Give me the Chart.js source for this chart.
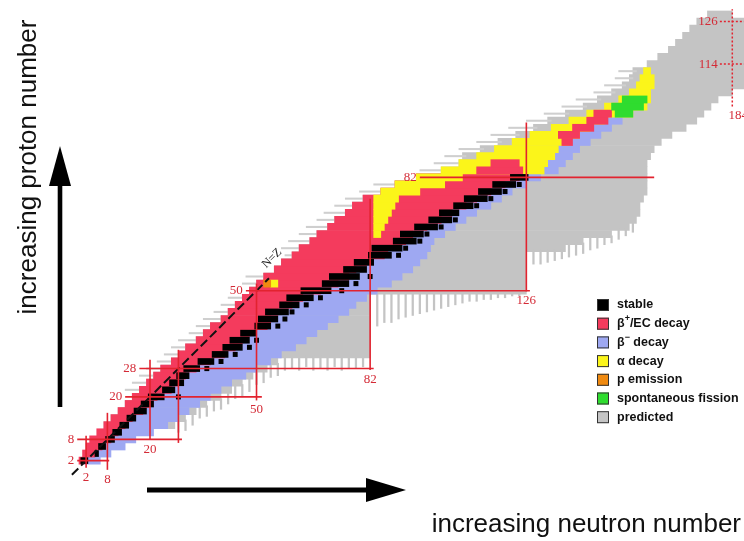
<!DOCTYPE html>
<html>
<head>
<meta charset="utf-8">
<title>Chart of nuclides</title>
<script src="https://cdn.jsdelivr.net/npm/chart.js@4.4.1/dist/chart.umd.min.js"></script>
<style>
  html, body { margin: 0; padding: 0; background: #fff; }
  #chart { display: block; }
</style>
</head>
<body>
<canvas id="chart" width="744" height="541"></canvas>
<script>
// proton number of every row (one row covers two protons)
const protonRows = [2, 4, 6, 8, 10, 12, 14, 16, 18, 20,
  22, 24, 26, 28, 30, 32, 34, 36, 38, 40,
  42, 44, 46, 48, 50, 52, 54, 56, 58, 60,
  62, 64, 66, 68, 70, 72, 74, 76, 78, 80,
  82, 84, 86, 88, 90, 92, 94, 96, 98, 100,
  102, 104, 106, 108, 110, 112, 114, 116, 118, 120,
  122, 124, 126, 128];

// neutron ranges [from, to] for each row, null = nothing in that row
const predicted = [null, null, null, null, null, [7, 27], [9, 30], [11, 33], [13, 36], [15, 40],
  [17, 43], [19, 46], [21, 49], [23, 53], [26, 56], [28, 82], [30, 82], [33, 82], [35, 82], [37, 82],
  [40, 82], [42, 82], [44, 82], [46, 82], [48, 126], [50, 126], [52, 126], [55, 126], [57, 126], [60, 126],
  [62, 137], [65, 142], [67, 150], [70, 155], [72, 157], [75, 158], [77, 158], [80, 159], [85, 160], [89, 160],
  [95, 160], [102, 160], [107, 160], [108, 161], [113, 162], [118, 164], [123, 167], [128, 171], [132, 174], [137, 176],
  [142, 178], [146, 180], [150, 184], [153, 188], [155, 190], [156, 190], [160, 190], [163, 190], [166, 190], [168, 190],
  [170, 190], [172, 190], [174, 190], [177, 184]];

// thin predicted strokes on the proton-rich side
const predictedEdge = [null, null, null, null, null, null, null, null, null, null,
  [13, 18], [15, 20], [17, 22], [19, 24], [22, 27], [24, 29], [26, 31], [28, 34], [31, 36], [33, 38],
  [35, 41], [38, 43], [40, 45], [42, 47], null, [46, 51], [47, 53], null, null, [58, 61],
  [57, 63], [59, 66], [62, 68], [64, 71], [67, 73], [69, 76], [72, 78], [75, 81], [79, 86], [83, 90],
  null, [96, 103], [100, 108], [103, 109], [107, 114], [112, 119], [116, 124], [121, 129], [126, 133], [131, 138],
  [136, 143], [140, 147], [145, 151], [148, 154], [151, 156], [152, 157], null, null, null, null,
  null, null, null, null];

const betaPlus = [[0, 1.5], [1, 4.5], [2, 6.5], [3, 9], [5, 11], [7, 13], [9, 15], [11, 18], [13, 20], [15, 22],
  [17, 26], [19, 28], [21, 30], [23, 33], [26, 37], [28, 41], [30, 44], [33, 46], [35, 48], [37, 53],
  [40, 54], [42, 56], [44, 60], [46, 63], [48, 68], [50, 73], [52, 76], [55, 78], [57, 81], [60, 86],
  [62, 87], [65, 92], [67, 94], [70, 98], [72, 102], [75, 105], [77, 109], [80, 112], [85, 116], [89, 120],
  [95, 124], null, null, null, null, null, null, null, null, null,
  null, null, null, null, null, null, null, null, null, null,
  null, null, null, null];

// beta+ cells lying among the alpha emitters
const betaPlusSpots = [null, null, null, null, null, null, null, null, null, null,
  null, null, null, null, null, null, null, null, null, null,
  null, null, null, null, null, null, null, null, null, null,
  null, null, null, null, null, null, null, null, null, null,
  null, [112, 125], [116, 124], null, null, [136, 139], [135, 141], [139, 145], [143, 149], [145, 150],
  null, null, null, null, null, null, null, null, null, null,
  null, null, null, null];

const alphaDecay = [null, null, null, null, null, null, null, null, null, null,
  null, null, null, null, null, null, null, null, null, null,
  null, null, null, null, null, [54, 56], null, null, null, null,
  null, null, [83, 85], [83, 86], [83, 87], [83, 88], [83, 89], [83, 90], [85, 96], [89, 103],
  [95, 108], [102, 131], [107, 132], [112, 134], [117, 135], [122, 138], [127, 141], [133, 144], [138, 148], [143, 156],
  [148, 160], [152, 161], [155, 161], [157, 162], [158, 162], [159, 161], null, null, null, null,
  null, null, null, null];

const betaMinus = [[1.5, 6], [4.5, 9], [6.5, 13], [9, 16], [11, 21], [13, 25], [15, 28], [18, 31], [20, 34], [22, 37],
  [26, 40], [28, 43], [30, 47], [33, 50], [37, 54], [41, 57], [44, 61], [46, 64], [48, 67], [53, 70],
  [54, 73], [56, 76], [60, 78], [63, 81], [68, 84], [73, 88], [76, 91], [78, 94], [81, 96], [86, 98],
  [87, 99], [92, 100], [94, 103], [98, 106], [102, 109], [105, 112], [109, 116], [112, 119], [116, 122], [120, 126],
  [124, 130], [131, 135], [132, 137], [134, 139], [135, 141], [138, 144], [141, 147], [144, 150], [148, 153], null,
  null, null, null, null, null, null, null, null, null, null,
  null, null, null, null];

const fission = [null, null, null, null, null, null, null, null, null, null,
  null, null, null, null, null, null, null, null, null, null,
  null, null, null, null, null, null, null, null, null, null,
  null, null, null, null, null, null, null, null, null, null,
  null, null, null, null, null, null, null, null, null, [151, 156],
  [150, 159], [153, 160], null, null, null, null, null, null, null, null,
  null, null, null, null];

const protonEmission = [null, null, null, null, null, null, null, null, null, null,
  null, null, null, null, null, null, null, null, null, null,
  null, null, null, null, null, [52, 54], null, null, null, null,
  null, null, null, null, null, null, null, null, null, null,
  null, null, null, null, null, null, null, null, null, null,
  null, null, null, null, null, null, null, null, null, null,
  null, null, null, null];

// core of the valley of stability
const stable = [[0.5, 2.5], [4.5, 5.5], [5.5, 7.5], [7.5, 10], [9.5, 12], [11.5, 14], [13.5, 16], [15.5, 19], [17.5, 21], [19.5, 24],
  [23.5, 27], [25.5, 29.5], [27.5, 31], [29.5, 34], [33.5, 38], [37.5, 42], [40.5, 46], [42.5, 48], [45.5, 50], [49.5, 54],
  [50.5, 56], [52.5, 59], [56.5, 62], [58.5, 66], [62.5, 71], [68.5, 76], [70.5, 79], [74.5, 81], [77.5, 83], [81.5, 88],
  [82.5, 91], [88.5, 95], [90.5, 97], [94.5, 101], [98.5, 105], [101.5, 107], [105.5, 111], [108.5, 115], [112.5, 119], [116.5, 123],
  [121.5, 126.5], null, null, null, null, null, null, null, null, null,
  null, null, null, null, null, null, null, null, null, null,
  null, null, null, null];

// single stable isotopes lying on the neutron-rich side of the valley
const stableOutliers = [null, null, null, null, null, null, null, null, null, [27.4, 28.6],
  null, null, null, [35.4, 36.6], [39.4, 40.6], [43.4, 44.6], [47.4, 48.6], [49.4, 50.6], null, [55.4, 56.6],
  [57.4, 58.6], [59.4, 60.6], [63.4, 64.6], [67.4, 68.6], [73.4, 74.6], [77.4, 78.6], [81.4, 82.6], null, null, [89.4, 90.6],
  [91.4, 92.6], [95.4, 96.6], [97.4, 98.6], [101.4, 102.6], [105.4, 106.6], null, [111.4, 112.6], [115.4, 116.6], [119.4, 120.6], [123.4, 124.6],
  null, null, null, null, null, null, null, null, null, null,
  null, null, null, null, null, null, null, null, null, null,
  null, null, null, null];

// ragged fringe on the neutron-rich edge of the predicted area
const fringeN = [28, 30, 32, 34, 36, 38, 40, 42, 44, 46, 48, 50, 52, 54, 56,
  58, 60, 62, 64, 66, 68, 70, 72, 74, 76, 78, 80,
  84, 86, 88, 90, 92, 94, 96, 98, 100, 102, 104, 106, 108, 110, 112, 114, 116, 118, 120, 122, 124,
  128, 130, 132, 134, 136, 138, 140, 142, 144, 146, 148, 150, 152, 154, 156];
const fringeZ = [[10, 13.5], [10.5, 13.5], [12, 15.5], [14, 17.5], [14.5, 17.5], [16, 19.5], [16.5, 19.5], [18, 21.5], [19.5, 23.5], [20, 23.5], [21.5, 25.5], [23.5, 27.5], [24, 27.5], [25.5, 29.5], [26, 29.5],
  [27.5, 31.5], [28, 31.5], [27.5, 31.5], [28.5, 31.5], [27.5, 31.5], [28, 31.5], [27.5, 31.5], [28.5, 31.5], [27.5, 31.5], [28, 31.5], [28, 31.5], [28.5, 31.5],
  [40, 49.5], [41, 49.5], [41, 49.5], [42, 49.5], [42.5, 49.5], [43, 49.5], [43.5, 49.5], [44, 49.5], [44.5, 49.5], [45, 49.5], [45.5, 49.5], [46, 49.5], [46.5, 49.5], [47, 49.5], [47, 49.5], [47.5, 49.5], [47.5, 49.5], [48, 49.5], [48, 49.5], [48.5, 49.5], [48.5, 49.5],
  [57.5, 61.5], [57.5, 61.5], [58, 61.5], [58.5, 61.5], [59, 61.5], [59.5, 63.5], [60, 63.5], [60.5, 63.5], [61.5, 65.5], [62, 65.5], [63, 65.5], [63.5, 65.5], [64.5, 67.5], [65.5, 67.5], [66.5, 69.5]];

// magic numbers: proton lines run along N, neutron lines run along Z
const magicZ = [2, 8, 20, 28, 50, 82];
const magicZFrom = [-0.5, -0.5, 13, 17, 47, 96];
const magicZTo = [8.5, 29, 51.5, 83, 127, 162];
const magicN = [2, 8, 20, 28, 50, 82, 126];
const magicNFrom = [0, -0.6, 7.8, 7, 19, 27.6, 49.8];
const magicNTo = [9, 15.5, 30.5, 33.3, 52, 76, 97.5];
const magicNShown = [true, true, true, false, true, true, true];

// predicted island of stability
const islandZ = [126, 114];
const islandZFrom = 180.5;
const islandN = 184;
const islandNFrom = 102;
const islandNTo = 129.5;

// N = Z diagonal
const nzFrom = -2;
const nzTo = 53.5;

const colors = {
  stable: '#000000',
  betaPlus: '#f43b5d',
  betaMinus: '#9ea8f2',
  alpha: '#fbf51a',
  proton: '#f08a10',
  fission: '#2fdc2f',
  predicted: '#c4c4c4',
  edge: '#cfcfcf',
  magic: '#e2232f',
  magicText: '#d42a36'
};

const legendItems = [
  { color: colors.stable, parts: ['stable'] },
  { color: colors.betaPlus, parts: ['β', '+', '/EC decay'] },
  { color: colors.betaMinus, parts: ['β', '−', ' decay'] },
  { color: colors.alpha, parts: ['α decay'] },
  { color: colors.proton, parts: ['p emission'] },
  { color: colors.fission, parts: ['spontaneous fission'] },
  { color: colors.predicted, parts: ['predicted'] }
];

function rowBars(ranges) {
  const out = [];
  ranges.forEach((r, i) => {
    if (r) out.push({ x: r, y: protonRows[i] });
  });
  return out;
}

const rowSet = (label, ranges, color, thickness, order) => ({
  label, data: rowBars(ranges), backgroundColor: color, barThickness: thickness, order
});

const lineSet = (points, color, width, dash, order) => ({
  type: 'line', data: points, borderColor: color, borderWidth: width, borderDash: dash,
  pointRadius: 0, fill: false, tension: 0, indexAxis: 'x', order
});

const datasets = [];
magicZ.forEach((z, i) => datasets.push(lineSet([{ x: magicZFrom[i], y: z }, { x: magicZTo[i], y: z }], colors.magic, 1.6, [], 0)));
magicN.forEach((n, i) => datasets.push(lineSet([{ x: n, y: magicNFrom[i] }, { x: n, y: magicNTo[i] }], colors.magic, 1.6, [], 0)));
islandZ.forEach(z => datasets.push(lineSet([{ x: islandZFrom, y: z }, { x: 190, y: z }], colors.magic, 1.5, [2, 2], 0)));
datasets.push(lineSet([{ x: islandN, y: islandNFrom }, { x: islandN, y: islandNTo }], colors.magic, 1.5, [2, 2], 0));
datasets.push(lineSet([{ x: nzFrom, y: nzFrom }, { x: nzTo, y: nzTo }], '#111', 2, [9, 4], 0));

datasets.push(rowSet('stable', stable, colors.stable, 6, 1));
datasets.push(rowSet('stable outliers', stableOutliers, colors.stable, 4.4, 1));
datasets.push(rowSet('p emission', protonEmission, colors.proton, 7.1, 2));
datasets.push(rowSet('spontaneous fission', fission, colors.fission, 7.1, 3));
datasets.push(rowSet('beta+ spots', betaPlusSpots, colors.betaPlus, 7.1, 4));
datasets.push(rowSet('alpha decay', alphaDecay, colors.alpha, 7.1, 5));
datasets.push(rowSet('beta+/EC decay', betaPlus, colors.betaPlus, 7.1, 6));
datasets.push(rowSet('beta- decay', betaMinus, colors.betaMinus, 7.1, 7));
datasets.push({
  label: 'fringe', indexAxis: 'x', order: 8, backgroundColor: colors.predicted, barThickness: 1.6,
  data: fringeN.map((n, i) => ({ x: n, y: fringeZ[i] }))
});
datasets.push(rowSet('predicted edge', predictedEdge, colors.edge, 1.4, 9));
datasets.push(rowSet('predicted', predicted, colors.predicted, 7.1, 10));

function drawArrow(ctx, x1, y1, x2, y2, shaft, headLen, headWidth) {
  const ang = Math.atan2(y2 - y1, x2 - x1);
  const len = Math.hypot(x2 - x1, y2 - y1);
  ctx.save();
  ctx.translate(x1, y1);
  ctx.rotate(ang);
  ctx.fillRect(0, -shaft / 2, len - headLen + 1, shaft);
  ctx.beginPath();
  ctx.moveTo(len, 0);
  ctx.lineTo(len - headLen, -headWidth / 2);
  ctx.lineTo(len - headLen, headWidth / 2);
  ctx.closePath();
  ctx.fill();
  ctx.restore();
}

const decorations = {
  id: 'decorations',
  afterDatasetsDraw(chart) {
    const { ctx } = chart;
    const x = chart.scales.x;
    const y = chart.scales.y;
    ctx.save();

    // magic number labels
    ctx.fillStyle = colors.magicText;
    ctx.font = '13px "Liberation Serif"';
    ctx.textAlign = 'right';
    ctx.textBaseline = 'middle';
    magicZ.forEach((z, i) => ctx.fillText(String(z), x.getPixelForValue(magicZFrom[i]) - 3, y.getPixelForValue(z)));
    islandZ.forEach(z => ctx.fillText(String(z), x.getPixelForValue(islandZFrom) - 2, y.getPixelForValue(z)));
    ctx.textAlign = 'center';
    ctx.textBaseline = 'top';
    magicN.forEach((n, i) => {
      if (magicNShown[i]) ctx.fillText(String(n), x.getPixelForValue(n), y.getPixelForValue(magicNFrom[i]) + 3);
    });
    ctx.fillText(String(islandN), x.getPixelForValue(islandN) + 6, y.getPixelForValue(islandNFrom) + 3);

    // N = Z label along the diagonal
    ctx.save();
    ctx.translate(x.getPixelForValue(nzTo) + 3, y.getPixelForValue(nzTo) - 20);
    ctx.rotate(-Math.PI / 4);
    ctx.fillStyle = '#222';
    ctx.font = '12px "Liberation Serif"';
    ctx.textAlign = 'center';
    ctx.textBaseline = 'middle';
    ctx.fillText('N=Z', 0, 0);
    ctx.restore();

    // axis arrows and titles
    ctx.fillStyle = '#000';
    drawArrow(ctx, 60, 407, 60, 146, 4.6, 40, 22);
    drawArrow(ctx, 147, 490, 406, 490, 5, 40, 24);
    ctx.fillStyle = '#111';
    ctx.font = '26px "Liberation Sans"';
    ctx.textAlign = 'right';
    ctx.textBaseline = 'alphabetic';
    ctx.fillText('increasing neutron number', 741, 532);
    ctx.save();
    ctx.translate(29, 167);
    ctx.rotate(-Math.PI / 2);
    ctx.textAlign = 'center';
    ctx.textBaseline = 'middle';
    ctx.fillText('increasing proton number', 0, 0);
    ctx.restore();

    // legend
    legendItems.forEach((item, i) => {
      const cy = 305 + i * 18.7;
      ctx.fillStyle = item.color;
      ctx.fillRect(597, cy - 6, 12, 12);
      ctx.strokeStyle = '#333';
      ctx.lineWidth = 1;
      ctx.strokeRect(597.5, cy - 5.5, 11, 11);
      ctx.fillStyle = '#111';
      ctx.textAlign = 'left';
      ctx.textBaseline = 'middle';
      let tx = 617;
      item.parts.forEach((part, k) => {
        const sup = item.parts.length === 3 && k === 1;
        ctx.font = sup ? 'bold 9px "Liberation Sans"' : 'bold 12.5px "Liberation Sans"';
        ctx.fillText(part, tx, sup ? cy - 5 : cy);
        tx += ctx.measureText(part).width;
      });
    });
    ctx.restore();
  }
};

new Chart(document.getElementById('chart'), {
  type: 'bar',
  data: { datasets },
  options: {
    responsive: false,
    animation: false,
    devicePixelRatio: 1,
    indexAxis: 'y',
    layout: { padding: 0 },
    datasets: { bar: { grouped: false, borderWidth: 0 } },
    plugins: { legend: { display: false }, tooltip: { enabled: false } },
    scales: {
      x: { type: 'linear', min: -22.25, max: 187.3, offset: false, display: false },
      y: { type: 'linear', min: -20.7, max: 132.1, offset: false, display: false }
    }
  },
  plugins: [decorations]
});
</script>
</body>
</html>
